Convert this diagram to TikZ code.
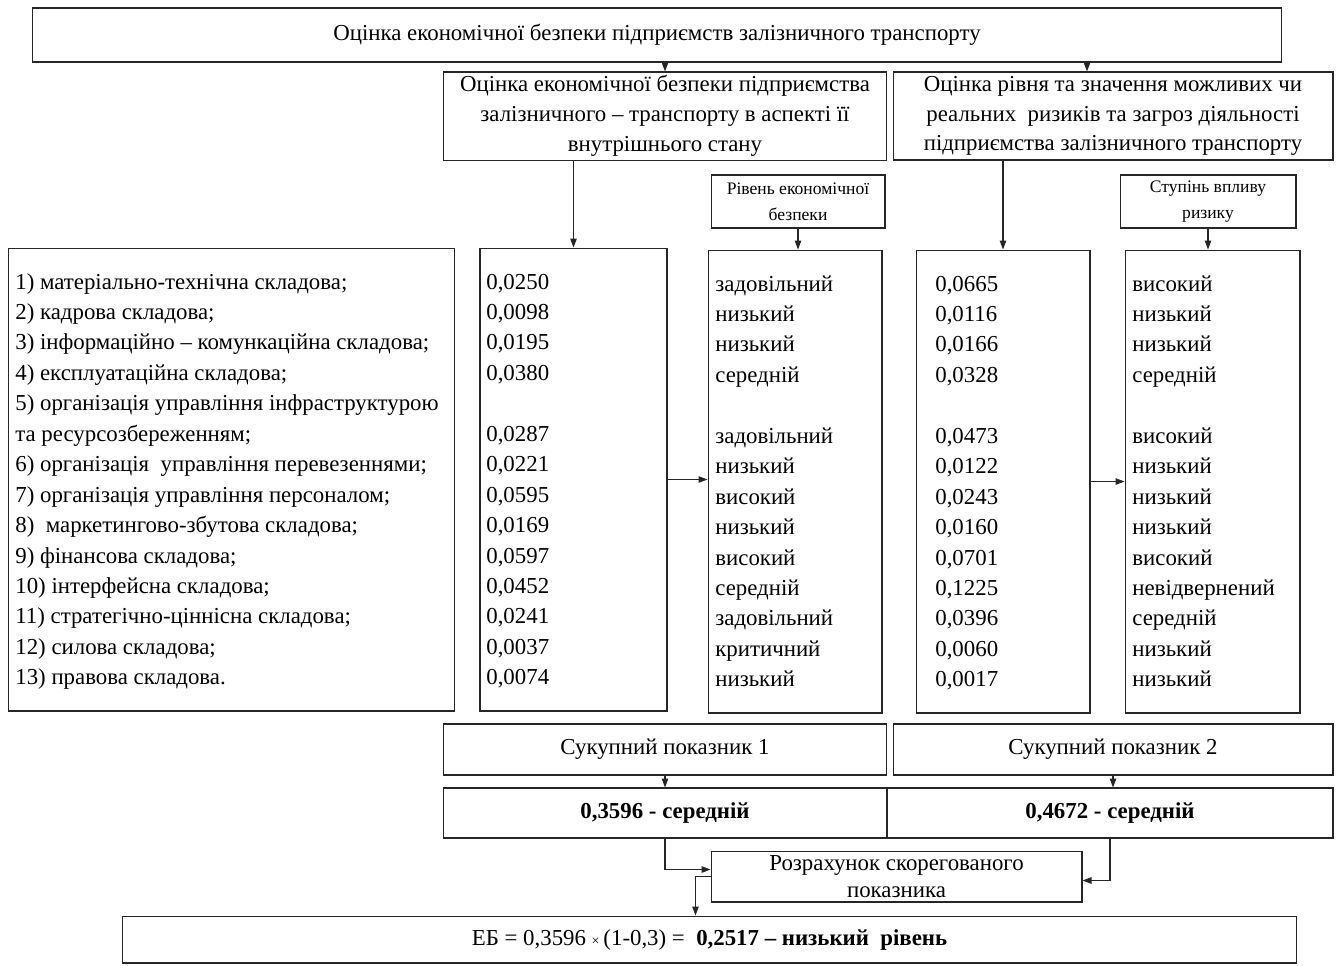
\documentclass[tikz,border=0pt]{standalone}
\usepackage{fontspec}
\setmainfont{Liberation Serif}
\usetikzlibrary{arrows.meta,positioning,calc}

\begin{document}
\begin{tikzpicture}[
	x=0.02cm, y=-0.02cm,
	font=\fontsize{13}{17}\selectfont,
	box/.style={rectangle, draw=black!85, line width=0.6pt, align=center, inner sep=2pt},
	head/.style={box, font=\fontsize{10}{15}\selectfont},
	cell/.style={anchor=base west, inner sep=0pt},
	arr/.style={-{Triangle[length=1.8mm,width=1.3mm]}, line width=0.6pt, draw=black!85}
]
\useasboundingbox (0,0) rectangle (1341,965);

% upper boxes
\node[box, minimum width=25cm, minimum height=1.08cm] (title) at (657,35) {Оцінка економічної безпеки підприємств залізничного транспорту};
\node[box, minimum width=8.88cm, minimum height=1.76cm] (internal) at (665,116) {Оцінка економічної безпеки підприємства\\залізничного – транспорту в аспекті її\\внутрішнього стану};
\node[box, minimum width=8.8cm, minimum height=1.76cm] (risks) at (1113,116) {Оцінка рівня та значення можливих чи\\реальних\ \ ризиків та загроз діяльності\\підприємства залізничного транспорту};
\node[head, minimum width=3.48cm, minimum height=1.06cm] (lvlhead1) at (798,201.5) {Рівень економічної\\безпеки};
\node[head, minimum width=3.52cm, minimum height=1.06cm] (lvlhead2) at (1208,201.5) {Ступінь впливу\\ризику};

% columns
\node[box, minimum width=8.94cm, minimum height=9.26cm] (list) at (231.5,479.5) {};
\node[box, minimum width=3.74cm, minimum height=9.26cm] (vals1) at (573.5,479.5) {};
\node[box, minimum width=3.48cm, minimum height=9.26cm] (lvl1) at (795,481.5) {};
\node[box, minimum width=3.48cm, minimum height=9.26cm] (vals2) at (1003,481.5) {};
\node[box, minimum width=3.5cm, minimum height=9.26cm] (lvl2) at (1212.5,481.5) {};

\foreach \r/\t in {0/{1) матеріально-технічна складова;}, 1/{2) кадрова складова;},
	2/{3) інформаційно – комункаційна складова;}, 3/{4) експлуатаційна складова;},
	4/{5) організація управління інфраструктурою}, 5/{та ресурсозбереженням;},
	6/{6) організація\ \ управління перевезеннями;}, 7/{7) організація управління персоналом;},
	8/{8)\ \ маркетингово-збутова складова;}, 9/{9) фінансова складова;},
	10/{10) інтерфейсна складова;}, 11/{11) стратегічно-ціннісна складова;},
	12/{12) силова складова;}, 13/{13) правова складова.}}
	\node[cell] (item\r) at (15,{289+30.45*\r}) {\t};

\foreach \r/\a/\b/\c/\d in {0/{0,0250}/задовільний/{0,0665}/високий,
	1/{0,0098}/низький/{0,0116}/низький, 2/{0,0195}/низький/{0,0166}/низький,
	3/{0,0380}/середній/{0,0328}/середній, 5/{0,0287}/задовільний/{0,0473}/високий,
	6/{0,0221}/низький/{0,0122}/низький, 7/{0,0595}/високий/{0,0243}/низький,
	8/{0,0169}/низький/{0,0160}/низький, 9/{0,0597}/високий/{0,0701}/високий,
	10/{0,0452}/середній/{0,1225}/невідвернений, 11/{0,0241}/задовільний/{0,0396}/середній,
	12/{0,0037}/критичний/{0,0060}/низький, 13/{0,0074}/низький/{0,0017}/низький}{
	\node[cell] (va\r) at (486,{289+30.45*\r}) {\a};
	\node[cell] (la\r) at (715,{291+30.45*\r}) {\b};
	\node[cell] (vb\r) at (935,{291+30.45*\r}) {\c};
	\node[cell] (lb\r) at (1132,{291+30.45*\r}) {\d};
}

% lower boxes
\node[box, minimum width=8.88cm, minimum height=1.02cm] (sum1) at (665,749.5) {Сукупний показник 1};
\node[box, minimum width=8.8cm, minimum height=1.02cm] (sum2) at (1113,749.5) {Сукупний показник 2};
\node[box, minimum width=8.88cm, minimum height=1cm, font=\fontsize{13}{17}\selectfont\bfseries] (res1) at (665,813) {0,3596 - середній};
\node[box, minimum width=8.92cm, minimum height=1cm, font=\fontsize{13}{17}\selectfont\bfseries] (res2) at (1110,813) {0,4672 - середній};
\node[box, minimum width=7.42cm, minimum height=1.02cm, font=\fontsize{13}{15.5}\selectfont] (calc) at (896.5,876.5) {Розрахунок скорегованого\\показника};
\node[box, minimum width=23.5cm, minimum height=0.94cm] (final) at (709.5,939.5) {ЕБ = 0,3596 {\fontsize{8}{8}\selectfont ×}\,(1-0,3) =\ \ \textbf{0,2517 – низький\ \ рівень}};

% arrows
\draw[arr] (title.south -| internal.north) -- (internal.north);
\draw[arr] (title.south -| 1087,0) -- (risks.north -| 1087,0);
\draw[arr] (internal.south -| vals1.north) -- (vals1.north);
\draw[arr] (risks.south -| vals2.north) -- (vals2.north);
\draw[arr] (lvlhead1.south) -- (lvlhead1.south |- lvl1.north);
\draw[arr] (lvlhead2.south) -- (lvlhead2.south |- lvl2.north);
\draw[arr] (vals1.east) -- (vals1.east -| lvl1.west);
\draw[arr] (vals2.east) -- (vals2.east -| lvl2.west);
\draw[arr] (sum1.south) -- (res1.north);
\draw[arr] (sum2.south) -- (sum2.south |- res2.north);
\draw[arr] (res1.south) |- ($(calc.west)+(0,-7)$);
\draw[arr] (res2.south) |- ($(calc.east)+(0,4)$);
\draw[arr] (calc.west) -| ($(final.north)+(-14,0)$);
\end{tikzpicture}
\end{document}
